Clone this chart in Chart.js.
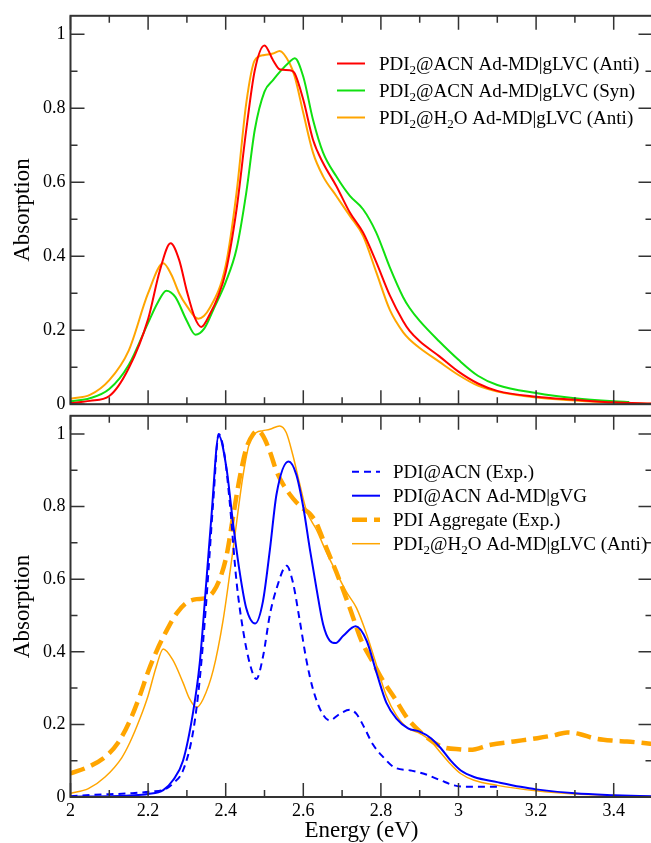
<!DOCTYPE html>
<html>
<head>
<meta charset="utf-8">
<script src="https://cdn.jsdelivr.net/npm/chart.js@4"></script>
<style>
  html, body { margin: 0; padding: 0; background: #fff; overflow: hidden; }
  #wrap { position: relative; width: 651px; height: 843px; overflow: hidden; }
  canvas { position: absolute; left: 0; }
  #top-canvas { top: 0; }
  #bottom-canvas { top: 400px; }
</style>
</head>
<body>
<div id="wrap">
  <canvas id="top-canvas" width="660" height="420"></canvas>
  <canvas id="bottom-canvas" width="660" height="460"></canvas>
</div>
<script>
// Axis ticks
const xTicks = [2, 2.2, 2.4, 2.6, 2.8, 3, 3.2, 3.4];
const yTicks = [0, 0.2, 0.4, 0.6, 0.8, 1];

// ===== Top panel =====
// PDI2@ACN Ad-MD|gLVC (Anti)
const antiAcnE = [2.00, 2.05, 2.10, 2.15, 2.20, 2.23, 2.258, 2.28, 2.30, 2.32, 2.337, 2.36, 2.38, 2.40, 2.428, 2.453, 2.475, 2.50, 2.522, 2.54, 2.565, 2.578, 2.60, 2.625, 2.651, 2.685, 2.72, 2.754, 2.788, 2.823, 2.857, 2.874, 2.90, 2.95, 3.00, 3.05, 3.10, 3.20, 3.30, 3.40, 3.50];
const antiAcnA = [0.003, 0.009, 0.022, 0.097, 0.23, 0.36, 0.435, 0.39, 0.305, 0.235, 0.209, 0.245, 0.29, 0.357, 0.527, 0.742, 0.903, 0.970, 0.93, 0.905, 0.903, 0.894, 0.823, 0.715, 0.652, 0.59, 0.518, 0.464, 0.384, 0.294, 0.225, 0.198, 0.17, 0.13, 0.088, 0.056, 0.036, 0.02, 0.012, 0.005, 0.002];

// PDI2@ACN Ad-MD|gLVC (Syn)
const synAcnE = [2.00, 2.05, 2.10, 2.15, 2.20, 2.225, 2.247, 2.27, 2.30, 2.322, 2.345, 2.37, 2.40, 2.428, 2.453, 2.475, 2.50, 2.522, 2.54, 2.565, 2.578, 2.60, 2.625, 2.651, 2.685, 2.72, 2.754, 2.788, 2.823, 2.857, 2.874, 2.90, 2.95, 3.00, 3.05, 3.10, 3.20, 3.30, 3.40, 3.44];
const synAcnA = [0.008, 0.016, 0.041, 0.106, 0.22, 0.275, 0.307, 0.29, 0.225, 0.188, 0.205, 0.26, 0.33, 0.42, 0.572, 0.742, 0.845, 0.876, 0.899, 0.926, 0.935, 0.885, 0.769, 0.68, 0.616, 0.563, 0.527, 0.464, 0.37, 0.29, 0.26, 0.225, 0.17, 0.12, 0.077, 0.052, 0.03, 0.016, 0.008, 0.006];

// PDI2@H2O Ad-MD|gLVC (Anti)
const antiH2oE = [2.00, 2.05, 2.10, 2.15, 2.20, 2.239, 2.26, 2.28, 2.30, 2.329, 2.36, 2.40, 2.428, 2.453, 2.475, 2.50, 2.522, 2.539, 2.565, 2.578, 2.60, 2.625, 2.651, 2.685, 2.72, 2.754, 2.788, 2.823, 2.857, 2.874, 2.90, 2.95, 3.00, 3.05, 3.10, 3.20, 3.30, 3.40, 3.50];
const antiH2oA = [0.015, 0.025, 0.065, 0.145, 0.30, 0.381, 0.35, 0.30, 0.265, 0.231, 0.262, 0.375, 0.572, 0.814, 0.93, 0.944, 0.948, 0.955, 0.921, 0.885, 0.787, 0.68, 0.616, 0.563, 0.509, 0.455, 0.357, 0.255, 0.195, 0.175, 0.152, 0.115, 0.079, 0.05, 0.034, 0.018, 0.01, 0.004, 0.001];

// ===== Bottom panel =====
// PDI@ACN (Exp.)
const expAcnE = [2.00, 2.063, 2.15, 2.209, 2.245, 2.264, 2.29, 2.316, 2.333, 2.35, 2.368, 2.382, 2.397, 2.41, 2.428, 2.445, 2.462, 2.479, 2.496, 2.514, 2.531, 2.557, 2.573, 2.591, 2.608, 2.625, 2.647, 2.668, 2.694, 2.72, 2.737, 2.754, 2.78, 2.806, 2.834, 2.877, 2.911, 2.954, 2.989, 3.023, 3.10];
const expAcnA = [0.002, 0.006, 0.01, 0.015, 0.022, 0.037, 0.073, 0.18, 0.323, 0.539, 0.816, 1.0, 0.942, 0.816, 0.592, 0.458, 0.368, 0.325, 0.386, 0.503, 0.574, 0.637, 0.592, 0.485, 0.377, 0.297, 0.234, 0.211, 0.229, 0.24, 0.229, 0.198, 0.144, 0.11, 0.082, 0.073, 0.064, 0.046, 0.032, 0.028, 0.028];

// PDI@ACN Ad-MD|gVG
const gvgAcnE = [2.00, 2.10, 2.153, 2.20, 2.239, 2.264, 2.29, 2.316, 2.333, 2.35, 2.363, 2.382, 2.402, 2.419, 2.436, 2.453, 2.476, 2.496, 2.514, 2.531, 2.562, 2.582, 2.60, 2.617, 2.634, 2.651, 2.668, 2.684, 2.703, 2.735, 2.763, 2.788, 2.814, 2.84, 2.87, 2.90, 2.929, 2.954, 2.98, 3.006, 3.04, 3.10, 3.16, 3.20, 3.30, 3.40, 3.50];
const gvgAcnA = [0.001, 0.002, 0.004, 0.008, 0.019, 0.046, 0.10, 0.234, 0.368, 0.592, 0.77, 0.996, 0.906, 0.754, 0.62, 0.52, 0.478, 0.539, 0.682, 0.834, 0.924, 0.888, 0.798, 0.682, 0.574, 0.476, 0.431, 0.424, 0.444, 0.47, 0.431, 0.345, 0.26, 0.216, 0.189, 0.18, 0.162, 0.135, 0.10, 0.073, 0.055, 0.041, 0.028, 0.021, 0.01, 0.005, 0.002];

// PDI Aggregate (Exp.)
const aggExpE = [2.00, 2.046, 2.089, 2.123, 2.153, 2.179, 2.20, 2.221, 2.247, 2.273, 2.299, 2.325, 2.346, 2.368, 2.385, 2.402, 2.419, 2.436, 2.453, 2.471, 2.483, 2.496, 2.514, 2.531, 2.548, 2.565, 2.582, 2.60, 2.617, 2.634, 2.651, 2.668, 2.685, 2.72, 2.75, 2.78, 2.80, 2.834, 2.869, 2.903, 2.954, 3.006, 3.03, 3.083, 3.143, 3.203, 3.246, 3.28, 3.314, 3.348, 3.40, 3.434, 3.50];
const aggExpA = [0.065, 0.083, 0.11, 0.15, 0.21, 0.28, 0.345, 0.40, 0.457, 0.505, 0.535, 0.545, 0.547, 0.565, 0.601, 0.664, 0.772, 0.879, 0.96, 1.0, 1.009, 0.995, 0.951, 0.897, 0.861, 0.834, 0.812, 0.794, 0.78, 0.754, 0.709, 0.664, 0.62, 0.52, 0.43, 0.37, 0.33, 0.275, 0.216, 0.178, 0.14, 0.131, 0.13, 0.144, 0.153, 0.162, 0.17, 0.178, 0.173, 0.162, 0.155, 0.153, 0.146];

// PDI2@H2O Ad-MD|gLVC (Anti), bottom normalisation
const antiH2oBotE = [2.00, 2.046, 2.089, 2.132, 2.153, 2.179, 2.20, 2.221, 2.239, 2.264, 2.29, 2.307, 2.325, 2.342, 2.368, 2.393, 2.419, 2.445, 2.462, 2.479, 2.496, 2.514, 2.539, 2.556, 2.573, 2.591, 2.608, 2.634, 2.66, 2.685, 2.711, 2.737, 2.763, 2.788, 2.814, 2.84, 2.87, 2.90, 2.929, 2.954, 2.98, 3.006, 3.04, 3.10, 3.20, 3.30, 3.40, 3.50];
const antiH2oBotA = [0.01, 0.023, 0.055, 0.108, 0.15, 0.216, 0.279, 0.359, 0.408, 0.377, 0.315, 0.27, 0.247, 0.27, 0.35, 0.485, 0.682, 0.888, 0.978, 1.004, 1.009, 1.013, 1.022, 1.004, 0.942, 0.861, 0.789, 0.736, 0.673, 0.619, 0.565, 0.521, 0.449, 0.365, 0.279, 0.225, 0.189, 0.176, 0.153, 0.122, 0.09, 0.064, 0.046, 0.032, 0.017, 0.008, 0.004, 0.001];
// ======================

const pts = (xs, ys) => xs.map((x, i) => ({ x: x, y: ys[i] }));

const serif = "'Liberation Serif', 'Times New Roman', serif";
Chart.defaults.font.family = serif;
Chart.defaults.color = '#000';

// frame with inward ticks on all four sides (xmgrace style)
const frameTicks = {
  id: 'frameTicks',
  afterDraw(chart) {
    const { ctx, chartArea: a, scales: { x, y } } = chart;
    ctx.save();
    ctx.strokeStyle = '#333';
    ctx.lineWidth = 2;
    ctx.strokeRect(a.left, a.top, a.right - a.left, a.bottom - a.top);
    ctx.lineWidth = 1.5;
    ctx.beginPath();
    for (let i = 0; i <= 15; i++) {
      const px = x.getPixelForValue(2 + i * 0.1);
      const len = i % 2 === 0 ? 14 : 7;
      ctx.moveTo(px, a.bottom); ctx.lineTo(px, a.bottom - len);
      ctx.moveTo(px, a.top); ctx.lineTo(px, a.top + len);
    }
    for (let i = 0; i <= 10; i++) {
      const py = y.getPixelForValue(i * 0.1);
      const len = i % 2 === 0 ? 14 : 7;
      ctx.moveTo(a.left, py); ctx.lineTo(a.left + len, py);
      ctx.moveTo(a.right, py); ctx.lineTo(a.right - len, py);
    }
    ctx.stroke();
    ctx.restore();
  }
};

// text with "₂" drawn as a real lowered subscript
function drawLabel(ctx, text, x, y) {
  ctx.save();
  ctx.fillStyle = '#000';
  ctx.textAlign = 'left';
  ctx.textBaseline = 'alphabetic';
  const runs = text.split(/(₂)/).filter(s => s.length);
  runs.forEach(run => {
    if (run === '₂') {
      ctx.font = '13px ' + serif;
      ctx.fillText('2', x, y + 4);
    } else {
      ctx.font = '19px ' + serif;
      ctx.fillText(run, x, y);
    }
    x += ctx.measureText(run === '₂' ? '2' : run).width;
  });
  ctx.restore();
}

const panelLegend = {
  id: 'panelLegend',
  afterDraw(chart, args, opts) {
    const ctx = chart.ctx;
    chart.data.datasets.forEach((ds, i) => {
      const yRow = opts.top + i * opts.gap;
      ctx.save();
      ctx.strokeStyle = ds.borderColor;
      ctx.lineWidth = ds.borderWidth;
      ctx.setLineDash(ds.borderDash || []);
      ctx.beginPath();
      ctx.moveTo(opts.lineX, yRow);
      ctx.lineTo(opts.lineX + opts.lineLen, yRow);
      ctx.stroke();
      ctx.restore();
      drawLabel(ctx, ds.label, opts.textX, yRow + 6);
    });
  }
};

function yScale() {
  return {
    min: 0,
    max: 1.05,
    afterFit: s => { s.width = 70.5; },
    afterBuildTicks: s => { s.ticks = yTicks.map(v => ({ value: v })); },
    grid: { display: false, drawTicks: false },
    border: { display: false },
    ticks: { padding: 5, font: { family: serif, size: 18 }, callback: v => String(v) },
    title: { display: true, text: 'Absorption', font: { family: serif, size: 23 }, padding: { top: 9, bottom: 0 } }
  };
}

function line(label, xs, ys, color, width, dash) {
  return {
    label: label,
    data: pts(xs, ys),
    borderColor: color,
    borderWidth: width,
    borderDash: dash || [],
    pointRadius: 0,
    fill: false,
    cubicInterpolationMode: 'monotone'
  };
}

const baseOpts = {
  responsive: false,
  animation: false,
  devicePixelRatio: 1,
  events: []
};

new Chart(document.getElementById('top-canvas'), {
  type: 'line',
  data: {
    datasets: [
      line('PDI₂@ACN Ad-MD|gLVC (Anti)', antiAcnE, antiAcnA, '#ff0000', 2),
      line('PDI₂@ACN Ad-MD|gLVC (Syn)', synAcnE, synAcnA, '#10e010', 2),
      line('PDI₂@H₂O Ad-MD|gLVC (Anti)', antiH2oE, antiH2oA, '#ffa500', 2)
    ]
  },
  options: Object.assign({}, baseOpts, {
    layout: { padding: { top: 15.5, right: 7.5, left: 0, bottom: 14 } },
    plugins: {
      legend: { display: false },
      tooltip: { enabled: false },
      panelLegend: { top: 63.5, gap: 27, lineX: 337, lineLen: 28, textX: 379 }
    },
    scales: {
      x: { type: 'linear', min: 2, max: 3.5, display: false },
      y: yScale()
    }
  }),
  plugins: [frameTicks, panelLegend]
});

new Chart(document.getElementById('bottom-canvas'), {
  type: 'line',
  data: {
    datasets: [
      line('PDI@ACN (Exp.)', expAcnE, expAcnA, '#0000ff', 2, [7, 5]),
      line('PDI@ACN Ad-MD|gVG', gvgAcnE, gvgAcnA, '#0000ff', 2),
      line('PDI Aggregate (Exp.)', aggExpE, aggExpA, '#ffa500', 4.5, [15, 7]),
      line('PDI₂@H₂O Ad-MD|gLVC (Anti)', antiH2oBotE, antiH2oBotA, '#ffa500', 1.5)
    ]
  },
  options: Object.assign({}, baseOpts, {
    layout: { padding: { top: 6, right: 7.5, left: 0, bottom: 0 } },
    plugins: {
      legend: { display: false },
      tooltip: { enabled: false },
      panelLegend: { top: 71.7, gap: 24, lineX: 352, lineLen: 28, textX: 393 }
    },
    scales: {
      x: {
        type: 'linear',
        min: 2,
        max: 3.5,
        afterBuildTicks: s => { s.ticks = xTicks.map(v => ({ value: v })); },
        afterFit: s => { s.height = 63; },
        grid: { display: false, drawTicks: false },
        border: { display: false },
        ticks: { padding: 3, font: { family: serif, size: 18 }, maxRotation: 0, autoSkip: false, callback: v => String(v) },
        title: { display: true, text: 'Energy (eV)', font: { family: serif, size: 23 }, padding: { top: 0, bottom: 15 } }
      },
      y: yScale()
    }
  }),
  plugins: [frameTicks, panelLegend]
});
</script>
</body>
</html>
